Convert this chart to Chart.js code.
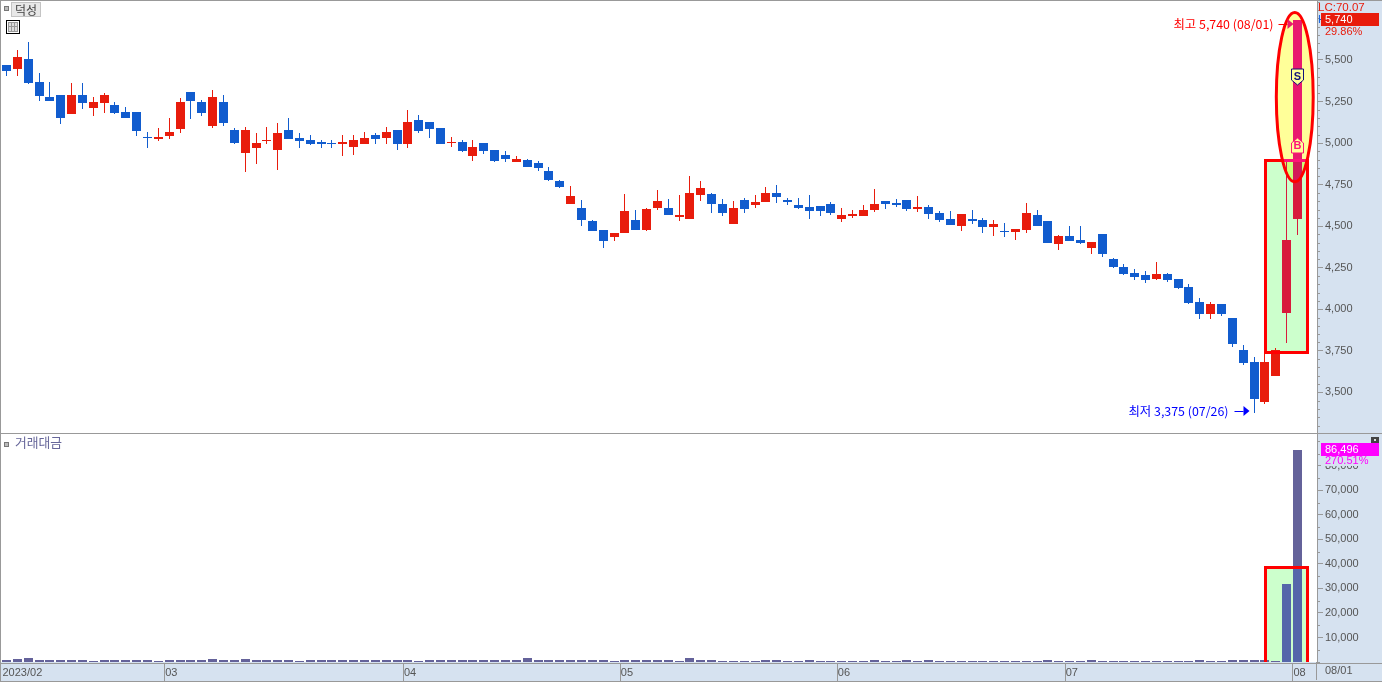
<!DOCTYPE html>
<html>
<head>
<meta charset="utf-8">
<script src="https://cdn.jsdelivr.net/npm/chart.js@4"></script>
<style>
html, body { margin: 0; padding: 0; background: #d6e2f0; overflow: hidden; }
canvas { position: absolute; left: 0; display: block; }
#priceChart { top: 0; }
#valueChart { top: 434px; }
</style>
</head>
<body>
<canvas id="priceChart" width="1382" height="434"></canvas>
<canvas id="valueChart" width="1382" height="248"></canvas>
<script>
// daily candles, 2023/02 .. 08/01
var opens = [5470,5445,5505,5365,5275,5290,5175,5290,5210,5240,5230,5185,5185,5035,5025,5045,5085,5305,5245,5105,
  5245,5080,4940,4970,5010,4960,5080,5030,5020,5005,5000,4995,4975,4995,5050,5030,5080,4995,5140,5125,
  5090,5000,5005,4920,5000,4960,4930,4885,4900,4880,4830,4770,4635,4610,4530,4475,4435,4460,4535,4475,
  4610,4610,4555,4545,4685,4695,4635,4515,4655,4625,4645,4700,4655,4625,4615,4620,4635,4545,4560,4560,
  4595,4650,4640,4655,4605,4615,4580,4545,4500,4545,4535,4495,4470,4465,4475,4565,4530,4395,4440,4415,
  4370,4455,4300,4255,4220,4205,4180,4210,4180,4135,4045,3970,4030,3945,3755,3680,3440,3600,3975,4545];
var highs = [5470,5560,5610,5420,5365,5290,5360,5360,5275,5300,5245,5215,5185,5065,5090,5150,5270,5305,5260,5320,
  5290,5090,5095,5060,5095,5120,5150,5060,5050,5020,5020,5050,5050,5065,5060,5095,5080,5200,5170,5125,
  5090,5035,5020,5020,5000,4960,4950,4920,4905,4890,4855,4780,4740,4655,4535,4475,4460,4695,4595,4610,
  4715,4665,4685,4800,4770,4700,4665,4650,4670,4685,4735,4750,4670,4670,4685,4620,4645,4610,4595,4625,
  4725,4650,4665,4655,4680,4625,4590,4590,4575,4595,4550,4535,4520,4485,4640,4595,4530,4445,4500,4500,
  4405,4455,4310,4270,4240,4230,4285,4220,4180,4150,4065,4045,4030,3945,3785,3710,3745,3765,4900,5740];
var lows = [5405,5405,5355,5255,5255,5115,5175,5205,5165,5180,5175,5150,5045,4970,5010,5025,5060,5145,5165,5090,
  5105,4995,4825,4875,4995,4840,5025,4970,4990,4970,4970,4920,4930,4995,4995,4995,4960,4970,5060,5030,
  4995,4975,4945,4890,4935,4885,4885,4885,4855,4830,4770,4730,4635,4500,4470,4370,4410,4460,4475,4470,
  4595,4565,4530,4545,4650,4580,4560,4515,4580,4610,4645,4640,4625,4605,4545,4560,4565,4525,4550,4560,
  4585,4605,4615,4590,4585,4545,4525,4505,4470,4515,4460,4440,4435,4415,4460,4500,4400,4355,4410,4395,
  4335,4315,4250,4205,4175,4160,4175,4165,4120,4030,3940,3940,3960,3775,3665,3375,3430,3600,3795,4445];
var closes = [5435,5520,5360,5285,5255,5150,5290,5240,5245,5290,5180,5150,5075,5030,5035,5065,5245,5255,5180,5275,
  5120,5000,5080,5000,5020,5060,5025,5010,4995,4995,4995,5005,5020,5030,5025,5065,4995,5125,5075,5085,
  4995,5005,4950,4975,4950,4890,4905,4905,4855,4850,4780,4735,4680,4535,4470,4410,4460,4590,4475,4605,
  4650,4565,4565,4700,4730,4635,4580,4610,4605,4645,4700,4675,4645,4610,4590,4590,4580,4565,4575,4595,
  4635,4635,4625,4605,4615,4575,4535,4505,4575,4530,4495,4515,4465,4485,4580,4500,4400,4440,4410,4400,
  4405,4335,4255,4210,4195,4175,4210,4175,4130,4035,3970,4030,3970,3790,3675,3460,3680,3755,4415,5740];
// 거래대금 (small bars are only 1-4 px tall in the picture)
var tradeValues = [800,1200,1600,800,800,800,800,800,400,800,800,800,800,800,400,800,800,800,800,1200,
  800,800,1200,800,800,800,800,400,800,800,800,800,800,800,800,800,800,800,400,800,
  800,800,800,800,800,800,800,800,1500,800,800,800,800,800,800,800,400,800,800,800,
  800,800,400,1500,800,800,400,400,400,400,800,800,400,400,800,400,400,400,400,400,
  800,400,400,800,400,800,400,400,400,400,400,400,400,400,400,400,800,400,400,400,
  800,400,400,400,400,400,400,400,400,400,800,400,400,800,800,800,800,400,31800,86496];

var monthStarts = [0, 15, 37, 57, 77, 98, 119];
var monthLabels = ['2023/02', '03', '04', '05', '06', '07', '08'];
var priceTickLabels = [3500, 3750, 4000, 4250, 4500, 4750, 5000, 5250, 5500];
var valueTickLabels = [10000, 20000, 30000, 40000, 50000, 60000, 70000, 80000];

// highlight shapes, in index/price units
var boxDays = [116, 119.92];
var boxPrices = [3741, 4899];
var boxValueTop = 38900;
var ovalDays = [117.05, 120.45];
var ovalPrices = [4767, 5786];
var firstHighlighted = 118;
var sellSignalPrice = 5397;
var buySignalPrice = 4982;

var RED = '#e81c0c', BLUE = '#115cce', CRIMSON = '#d81a3c', PINK = '#e91a6e', MIXED = '#d31a58';
var VALUE_BAR = '#64629a', VALUE_BAR_BOX = '#5566aa';
var GREY = '#999999', TEXT = '#555555', PANEL = '#d6e2f0';
var FONT = '"Liberation Sans", "Noto Sans CJK KR", sans-serif';
var KFONT = '"Noto Sans CJK KR", "Liberation Sans", sans-serif';

Chart.defaults.font.family = FONT;
Chart.defaults.font.size = 11;
Chart.defaults.animation = false;
Chart.defaults.plugins.legend.display = false;
Chart.defaults.plugins.tooltip.enabled = false;

var days = opens.map(function (o, i) { return i; });
var candleColors = opens.map(function (o, i) {
  if (i >= firstHighlighted) return CRIMSON;
  return closes[i] >= o ? RED : BLUE;
});

function formatNum(v) { return v.toLocaleString('en-US'); }

function hasLabel(list, v) { return list.indexOf(v) >= 0; }

// the reference has hard pixel edges, so snap the bars to whole pixels
var snapBars = {
  id: 'snapBars',
  afterDatasetsUpdate: function (chart) {
    chart.getSortedVisibleDatasetMetas().forEach(function (meta) {
      meta.data.forEach(function (bar) {
        bar.x = Math.floor(bar.x) + 0.5;
        bar.y = Math.round(bar.y);
        bar.base = Math.round(bar.base);
        if (bar.y === bar.base) bar.y -= 1;
      });
    });
  }
};

function xAxisBase() {
  return { type: 'linear', offset: false, min: -0.507, max: 120.8 };
}

// first, last: range of tick marks, every step
function yAxis(min, max, first, last, step, labels) {
  return {
    position: 'right',
    min: min,
    max: max,
    afterBuildTicks: function (s) {
      s.ticks = [];
      for (var v = first; v <= last; v += step) s.ticks.push({ value: v });
    },
    afterFit: function (s) { s.width = 65; s.paddingTop = 0; s.paddingBottom = 0; },
    border: { display: true, color: GREY },
    grid: {
      drawOnChartArea: false,
      tickLength: 6,
      tickColor: function (c) { return c.tick && hasLabel(labels, c.tick.value) ? GREY : 'rgba(0,0,0,0)'; }
    },
    ticks: {
      padding: 2,
      color: TEXT,
      autoSkip: false,
      callback: function (v) { return hasLabel(labels, v) ? formatNum(v) : ''; }
    }
  };
}

function drawMinorTicks(chart, labels) {
  var ctx = chart.ctx, s = chart.scales.y;
  ctx.fillStyle = GREY;
  s.ticks.forEach(function (t) {
    if (!hasLabel(labels, t.value)) ctx.fillRect(s.left, Math.round(s.getPixelForValue(t.value)), 3, 1);
  });
}

function paintArea(chart) {
  var a = chart.chartArea, ctx = chart.ctx;
  ctx.fillStyle = '#ffffff';
  ctx.fillRect(a.left, a.top, a.right - a.left, a.bottom - a.top);
}

function boxRect(chart, top, bottom) {
  var x = chart.scales.x;
  var l = Math.round(x.getPixelForValue(boxDays[0]));
  var r = Math.round(x.getPixelForValue(boxDays[1]));
  return { l: l, r: r, t: top, b: bottom };
}

function ovalPath(ctx, chart) {
  var x = chart.scales.x, y = chart.scales.y;
  var l = x.getPixelForValue(ovalDays[0]), r = x.getPixelForValue(ovalDays[1]);
  var t = y.getPixelForValue(ovalPrices[1]), b = y.getPixelForValue(ovalPrices[0]);
  ctx.beginPath();
  ctx.ellipse((l + r) / 2, (t + b) / 2, (r - l) / 2, (b - t) / 2, 0, 0, Math.PI * 2);
}

function fillBar(ctx, bar, color) {
  ctx.fillStyle = color;
  var h = bar.width / 2;
  ctx.fillRect(bar.x - h, Math.min(bar.y, bar.base), bar.width, Math.abs(bar.base - bar.y));
}

function square(ctx, x, y) {
  ctx.fillStyle = '#777777';
  ctx.fillRect(x, y, 5, 5);
  ctx.fillStyle = '#bbbbbb';
  ctx.fillRect(x + 1, y + 1, 3, 3);
}

function label(ctx, text, x, y, color, font, align) {
  ctx.font = font;
  ctx.fillStyle = color;
  ctx.textAlign = align || 'left';
  ctx.textBaseline = 'middle';
  ctx.fillText(text, x, y);
}

function signal(ctx, x, y, letter, line, up) {
  ctx.beginPath();
  if (up) {
    ctx.moveTo(x, y - 8); ctx.lineTo(x + 6, y - 3); ctx.lineTo(x + 6, y + 7); ctx.lineTo(x - 6, y + 7); ctx.lineTo(x - 6, y - 3);
  } else {
    ctx.moveTo(x - 6, y - 8); ctx.lineTo(x + 6, y - 8); ctx.lineTo(x + 6, y + 3); ctx.lineTo(x, y + 8); ctx.lineTo(x - 6, y + 3);
  }
  ctx.closePath();
  ctx.fillStyle = '#ffff99';
  ctx.fill();
  ctx.strokeStyle = line;
  ctx.lineWidth = 1;
  ctx.stroke();
  label(ctx, letter, x, y, line, 'bold 11px ' + FONT, 'center');
}

function arrow(ctx, x0, x1, tipX, y, color, headColor) {
  ctx.fillStyle = color;
  ctx.fillRect(x0, y, x1 - x0, 1);
  ctx.fillStyle = headColor;
  ctx.beginPath();
  ctx.moveTo(x1, y - 5);
  ctx.lineTo(tipX, y);
  ctx.lineTo(x1, y + 5);
  ctx.closePath();
  ctx.fill();
}

var priceDecor = {
  id: 'priceDecor',
  beforeDraw: paintArea,
  beforeDatasetsDraw: function (chart) {
    var ctx = chart.ctx, y = chart.scales.y;
    var b = boxRect(chart, Math.round(y.getPixelForValue(boxPrices[1])), Math.round(y.getPixelForValue(boxPrices[0])));
    ctx.save();
    ctx.fillStyle = '#ccffcc';
    ctx.fillRect(b.l, b.t, b.r - b.l, b.b - b.t);
    ctx.globalCompositeOperation = 'multiply';
    ovalPath(ctx, chart);
    ctx.fillStyle = '#ffff99';
    ctx.fill();
    ctx.restore();
  },
  afterDatasetsDraw: function (chart) {
    var ctx = chart.ctx, y = chart.scales.y;
    var b = boxRect(chart, Math.round(y.getPixelForValue(boxPrices[1])), Math.round(y.getPixelForValue(boxPrices[0])));
    var lastBody = chart.getDatasetMeta(1).data[opens.length - 1];
    // candle colour changes where it sits on the oval and on the box
    ctx.save();
    ovalPath(ctx, chart);
    ctx.clip();
    fillBar(ctx, lastBody, MIXED);
    ctx.beginPath();
    ctx.rect(0, 0, 1382, b.t);
    ctx.clip();
    fillBar(ctx, lastBody, PINK);
    ctx.restore();

    ctx.strokeStyle = '#ff0000';
    ctx.lineWidth = 3;
    ctx.strokeRect(b.l + 0.5, b.t + 0.5, b.r - b.l, b.b - b.t);
    ctx.save();
    ovalPath(ctx, chart);
    ctx.clip();
    ctx.fillStyle = '#ff1478';
    ctx.fillRect(b.l, b.t - 1, b.r - b.l, 3);
    ctx.restore();
    ovalPath(ctx, chart);
    ctx.stroke();

    var cx = lastBody.x;
    signal(ctx, cx, Math.round(y.getPixelForValue(sellSignalPrice)), 'S', '#12127a', false);
    signal(ctx, cx, Math.round(y.getPixelForValue(buySignalPrice)), 'B', '#ff1478', true);

    // high / low labels
    var hi = Math.max.apply(null, highs), lo = Math.min.apply(null, lows);
    var hiY = Math.round(y.getPixelForValue(hi)) + 4;
    var loY = Math.round(y.getPixelForValue(lo)) - 2;
    var hiBar = chart.getDatasetMeta(1).data[highs.indexOf(hi)];
    var loBar = chart.getDatasetMeta(0).data[lows.indexOf(lo)];
    arrow(ctx, hiBar.x - 19, hiBar.x - 10, hiBar.x - 4, hiY, '#ff0000', PINK);
    arrow(ctx, loBar.x - 20, loBar.x - 11, loBar.x - 5, loY, '#0000ff', '#0000ff');
    label(ctx, '최고 ' + formatNum(hi) + ' (08/01)', hiBar.x - 24, hiY, '#ff0000', '12.4px ' + KFONT, 'right');
    label(ctx, '최저 ' + formatNum(lo) + ' (07/26)', loBar.x - 26, loY, '#0000ff', '12.4px ' + KFONT, 'right');
  },
  afterDraw: function (chart) {
    var ctx = chart.ctx, a = chart.chartArea;
    drawMinorTicks(chart, priceTickLabels);

    // frame
    ctx.fillStyle = GREY;
    ctx.fillRect(0, 0, 1382, 1);
    ctx.fillRect(0, 0, 1, 434);
    ctx.fillRect(0, 433, 1382, 1);

    // pane title and icon
    square(ctx, 4, 6);
    ctx.fillStyle = '#e8e8e8';
    ctx.fillRect(11, 2, 30, 14);
    ctx.strokeStyle = '#c4c4c4';
    ctx.lineWidth = 1;
    ctx.strokeRect(11.5, 2.5, 29, 14);
    label(ctx, '덕성', 26, 10, '#444444', '12px ' + KFONT, 'center');
    ctx.strokeStyle = '#000000';
    ctx.strokeRect(6.5, 20.5, 13, 13);
    ctx.fillStyle = '#999999';
    ctx.fillRect(8, 22, 10, 10);
    ctx.fillStyle = '#dddddd';
    ctx.fillRect(9, 23, 2, 3); ctx.fillRect(12, 23, 2, 3); ctx.fillRect(15, 23, 2, 3);
    ctx.fillRect(9, 27, 2, 4); ctx.fillRect(12, 27, 2, 4); ctx.fillRect(15, 27, 2, 4);

    // current price block on the axis
    var rx = a.right + 1;
    label(ctx, 'LC:70.07', rx, 8, '#e81c0c', '11.5px ' + FONT);
    label(ctx, 'H', rx, 20, '#1160e0', '11px ' + FONT);
    ctx.fillStyle = '#e81c0c';
    ctx.fillRect(rx + 3, 13, 58, 13);
    label(ctx, formatNum(closes[closes.length - 1]), rx + 7, 20, '#ffffff', '11px ' + FONT);
    label(ctx, '29.86%', rx + 7, 32, '#e81c0c', '11px ' + FONT);
  }
};

var valueDecor = {
  id: 'valueDecor',
  beforeDraw: paintArea,
  beforeDatasetsDraw: function (chart) {
    var ctx = chart.ctx, a = chart.chartArea;
    var b = boxRect(chart, Math.round(chart.scales.y.getPixelForValue(boxValueTop)), a.bottom);
    ctx.fillStyle = '#ccffcc';
    ctx.fillRect(b.l, b.t, b.r - b.l, b.b - b.t);
  },
  afterDatasetsDraw: function (chart) {
    var ctx = chart.ctx, a = chart.chartArea;
    var b = boxRect(chart, Math.round(chart.scales.y.getPixelForValue(boxValueTop)), a.bottom);
    ctx.save();
    ctx.beginPath();
    ctx.rect(b.l, b.t, b.r - b.l, b.b - b.t);
    ctx.clip();
    var bars = chart.getDatasetMeta(0).data;
    fillBar(ctx, bars[bars.length - 2], VALUE_BAR_BOX);
    fillBar(ctx, bars[bars.length - 1], VALUE_BAR_BOX);
    ctx.restore();
    ctx.fillStyle = '#ff0000';
    ctx.fillRect(b.l - 1, b.t - 1, 3, a.bottom - b.t + 1);
    ctx.fillRect(b.r - 1, b.t - 1, 3, a.bottom - b.t + 1);
    ctx.fillRect(b.l - 1, b.t - 1, b.r - b.l + 3, 3);
  },
  afterDraw: function (chart) {
    var ctx = chart.ctx, a = chart.chartArea, x = chart.scales.x;
    drawMinorTicks(chart, valueTickLabels);

    // frame and date strip
    ctx.fillStyle = GREY;
    ctx.fillRect(0, 0, 1, 248);
    ctx.fillRect(0, a.bottom + 1, 1382, 1);
    ctx.fillRect(0, 247, 1382, 1);
    ctx.fillRect(a.right - 1, a.bottom, 1, 18);
    monthStarts.forEach(function (m) {
      if (m > 0) ctx.fillRect(Math.round(x.getPixelForValue(m)) - 5, a.bottom + 1, 1, 18);
    });

    square(ctx, 4, 8);
    label(ctx, '거래대금', 15, 8, '#66669a', '12.8px ' + KFONT);

    // close icon
    ctx.fillStyle = '#444444';
    ctx.fillRect(1371, 3, 8, 6);
    ctx.fillStyle = '#dddddd';
    ctx.fillRect(1374, 5, 2, 2);

    // last value block on the axis
    var rx = a.right + 1;
    ctx.fillStyle = PANEL;
    ctx.fillRect(rx + 3, 22, 58, 10);
    ctx.fillStyle = '#ff00ff';
    ctx.fillRect(rx + 3, 9, 58, 13);
    label(ctx, formatNum(tradeValues[tradeValues.length - 1]), rx + 7, 15.5, '#ffffff', '11px ' + FONT);
    label(ctx, '270.51%', rx + 7, 27, '#ff00ff', '11px ' + FONT);
    label(ctx, '08/01', rx + 7, 237, TEXT, '11px ' + FONT);
  }
};

new Chart(document.getElementById('priceChart').getContext('2d'), {
  type: 'bar',
  data: {
    labels: days,
    datasets: [{
      data: days.map(function (i) { return [lows[i], highs[i]]; }),
      backgroundColor: candleColors,
      barThickness: 1,
      grouped: false,
      inflateAmount: 0
    }, {
      data: days.map(function (i) { return [opens[i], closes[i]]; }),
      backgroundColor: candleColors,
      barThickness: 9,
      grouped: false,
      inflateAmount: 0
    }]
  },
  options: {
    responsive: false,
    events: [],
    layout: { padding: { left: 1, top: 1, bottom: 1, right: 0 } },
    scales: {
      x: Object.assign(xAxisBase(), { display: false }),
      y: yAxis(3255, 5855, 3300, 5850, 50, priceTickLabels)
    }
  },
  plugins: [snapBars, priceDecor]
});

var valueX = Object.assign(xAxisBase(), {
  afterBuildTicks: function (s) { s.ticks = monthStarts.map(function (m) { return { value: m }; }); },
  afterFit: function (s) { s.height = 20; s.paddingLeft = 0; s.paddingRight = 0; },
  border: { display: false },
  grid: { display: false, drawTicks: false },
  ticks: {
    align: 'start',
    labelOffset: -4,
    padding: 4,
    color: TEXT,
    autoSkip: false,
    maxRotation: 0,
    callback: function (v) { return monthLabels[monthStarts.indexOf(v)]; }
  }
});

new Chart(document.getElementById('valueChart').getContext('2d'), {
  type: 'bar',
  data: {
    labels: days,
    datasets: [{
      data: tradeValues,
      backgroundColor: VALUE_BAR,
      barThickness: 9,
      inflateAmount: 0
    }]
  },
  options: {
    responsive: false,
    events: [],
    layout: { padding: { left: 1, top: 0, bottom: 0, right: 0 } },
    scales: {
      x: valueX,
      y: yAxis(0, 93000, 0, 90000, 5000, valueTickLabels)
    }
  },
  plugins: [snapBars, valueDecor]
});
</script>
</body>
</html>
